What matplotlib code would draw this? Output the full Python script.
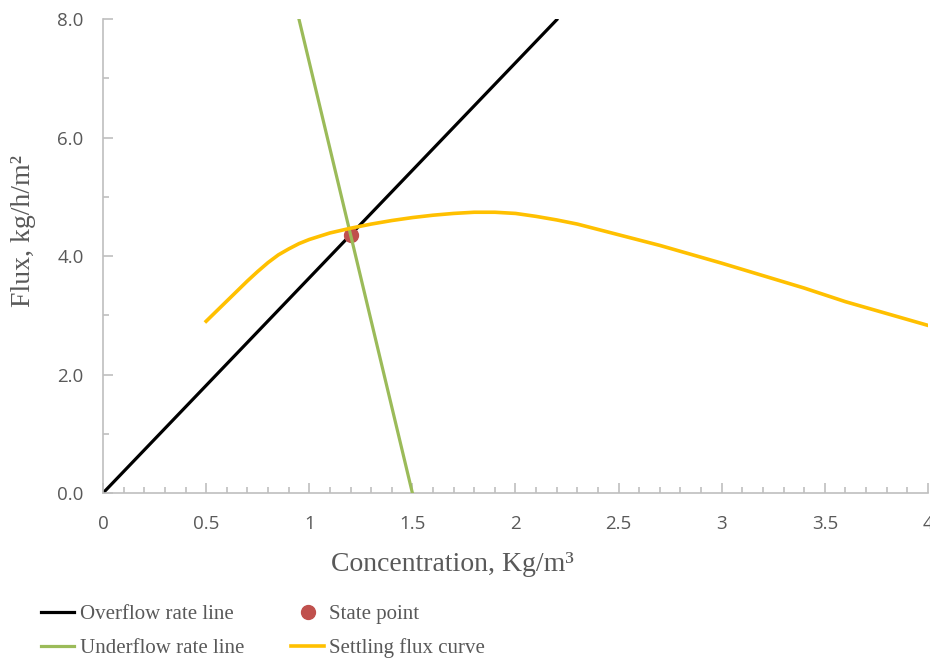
import matplotlib
matplotlib.use("Agg")
import matplotlib.pyplot as plt
from matplotlib.ticker import MultipleLocator, FormatStrFormatter, FuncFormatter

# Overflow rate line (clipped at the top of the plot)
overflow_x = [0.0, 2.2]
overflow_y = [0.0, 7.99]

# Underflow rate line
underflow_x = [0.95, 1.5]
underflow_y = [8.0, 0.0]

# State point
state_x = [1.2]
state_y = [4.36]

# Settling flux curve
settling_x = [0.5, 0.55, 0.6, 0.65, 0.7, 0.75, 0.8, 0.85, 0.9, 0.95, 1.0, 1.1,
              1.2, 1.3, 1.4, 1.5, 1.6, 1.7, 1.8, 1.9, 2.0, 2.1, 2.2, 2.3, 2.4,
              2.5, 2.6, 2.7, 2.8, 2.9, 3.0, 3.2, 3.4, 3.6, 3.8, 4.0]
settling_y = [2.90, 3.07, 3.24, 3.41, 3.58, 3.74, 3.89, 4.02, 4.12, 4.21, 4.28,
              4.39, 4.47, 4.54, 4.60, 4.65, 4.69, 4.72, 4.74, 4.74, 4.72, 4.67,
              4.61, 4.54, 4.45, 4.36, 4.27, 4.18, 4.08, 3.98, 3.88, 3.67, 3.46,
              3.23, 3.03, 2.83]

GREY_TEXT = "#595959"
GREY_AXIS = "#BFBFBF"

fig = plt.figure(figsize=(9.3, 6.6), dpi=100)
ax = fig.add_axes([0.1108, 0.253, 0.887, 0.718])

ax.plot(overflow_x, overflow_y, color="black", lw=2.3, label="Overflow rate line", zorder=2)
ax.plot(state_x, state_y, "o", color="#C0504D", ms=10, label="State point", zorder=3)
ax.plot(underflow_x, underflow_y, color="#9BBB59", lw=2.3, label="Underflow rate line", zorder=4)
ax.plot(settling_x, settling_y, color="#FFC000", lw=2.6, label="Settling flux curve",
        zorder=5, solid_joinstyle="round")

ax.set_xlim(0, 4)
ax.set_ylim(0, 8)
ax.xaxis.set_major_locator(MultipleLocator(0.5))
ax.xaxis.set_minor_locator(MultipleLocator(0.1))
ax.yaxis.set_major_locator(MultipleLocator(2))
ax.yaxis.set_minor_locator(MultipleLocator(1))
ax.xaxis.set_major_formatter(FuncFormatter(lambda v, p: f"{v:g}"))
ax.yaxis.set_major_formatter(FormatStrFormatter("%.1f"))

for side in ["top", "right"]:
    ax.spines[side].set_visible(False)
for side in ["left", "bottom"]:
    ax.spines[side].set_color(GREY_AXIS)
    ax.spines[side].set_linewidth(1.2)

ax.tick_params(which="both", direction="in", color=GREY_AXIS, width=1.2,
               labelcolor=GREY_TEXT, labelsize=13.5)
ax.tick_params(which="major", length=7)
ax.tick_params(which="minor", length=4)
ax.tick_params(axis="x", which="major", pad=16)
ax.tick_params(axis="y", which="major", pad=14)
for lbl in ax.get_xticklabels() + ax.get_yticklabels():
    lbl.set_family("Open Sans")

ax.set_xlabel("Concentration, Kg/m³", family="Liberation Serif", fontsize=20,
              color=GREY_TEXT)
ax.set_ylabel("Flux, kg/h/m²", family="Liberation Serif", fontsize=20,
              color=GREY_TEXT)
ax.xaxis.set_label_coords(0.423, -0.125)
ax.yaxis.set_label_coords(-0.081, 0.553)

handles, labels = ax.get_legend_handles_labels()
order = [0, 2, 1, 3]
leg = fig.legend([handles[i] for i in order], [labels[i] for i in order],
                 ncol=2, loc="lower left", bbox_to_anchor=(0.024, -0.026),
                 frameon=False, prop={"family": "Liberation Serif", "size": 15},
                 handlelength=1.6, handletextpad=0.25, columnspacing=2.25,
                 labelspacing=0.7)
for t in leg.get_texts():
    t.set_color(GREY_TEXT)

fig.savefig("out.png", dpi=100)
